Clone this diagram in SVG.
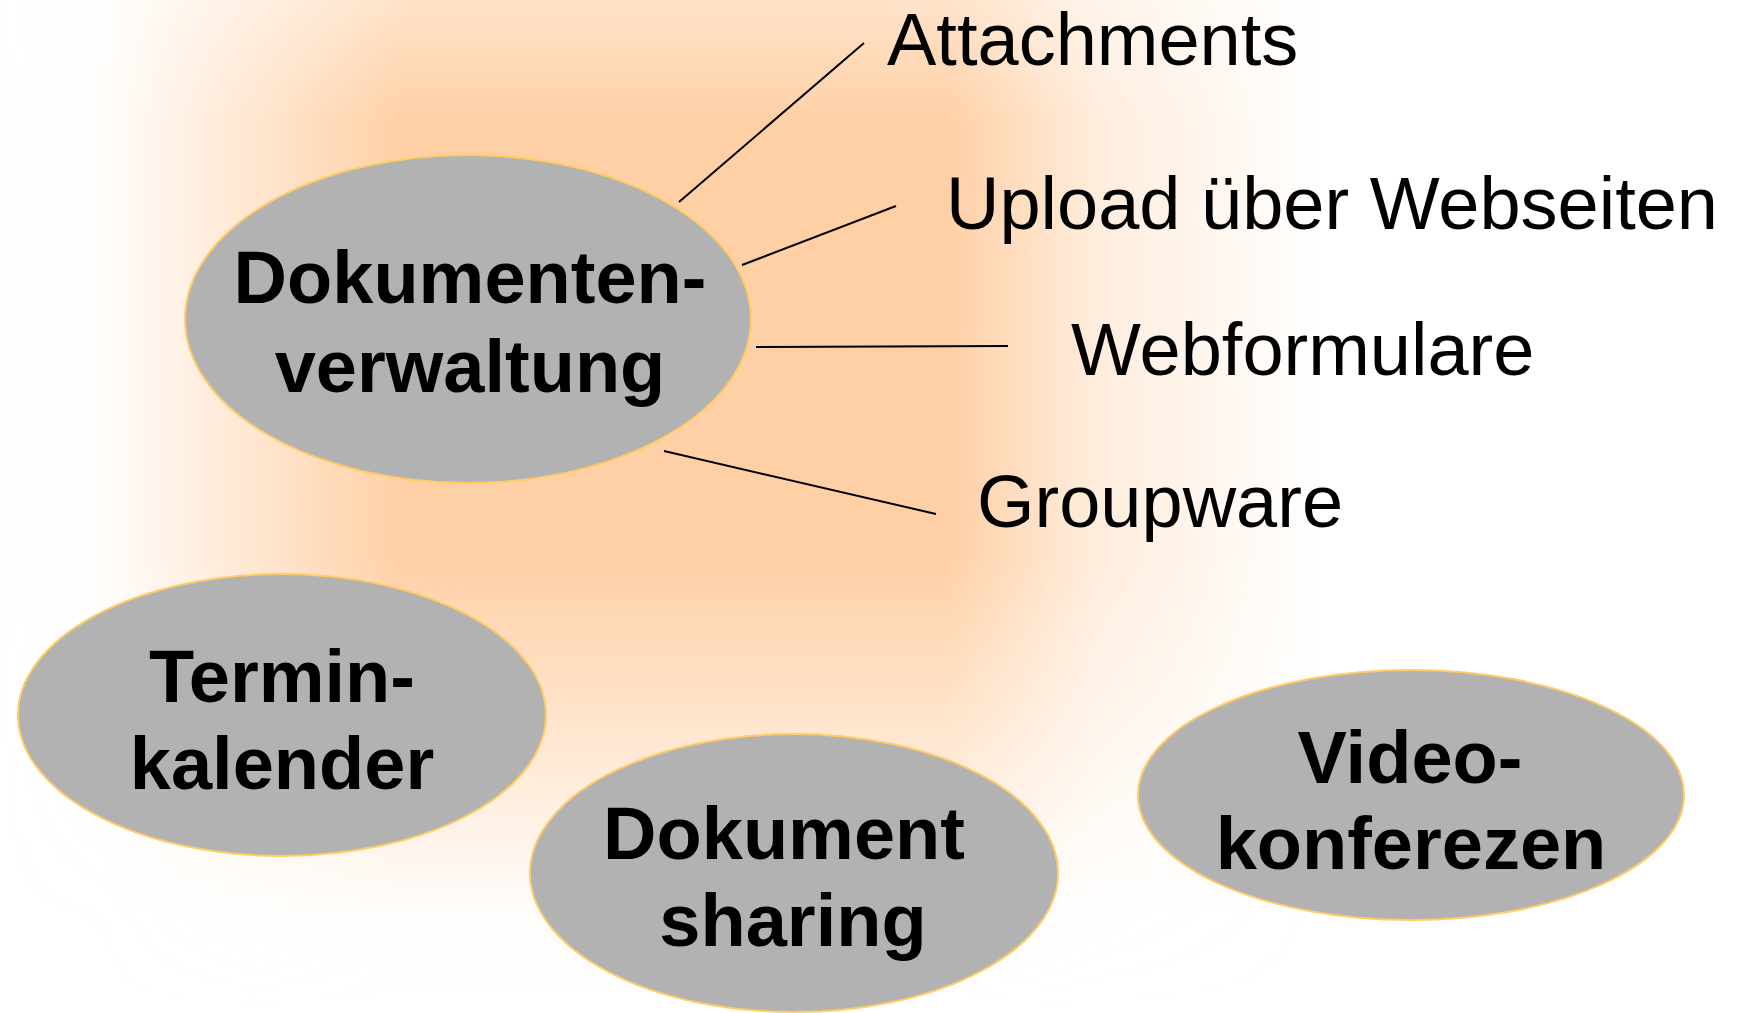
<svg xmlns="http://www.w3.org/2000/svg" width="1742" height="1013" viewBox="0 0 1742 1013">
<style>
.node ellipse{fill:#B2B2B2;stroke:#FFCC66;stroke-width:2}
.nt{font-family:"Liberation Sans",Arial,sans-serif;font-weight:bold;font-size:74px;fill:#000;text-anchor:middle}
.lbl{font-family:"Liberation Sans",Arial,sans-serif;font-size:74px;fill:#000}
.conn line{stroke:#000;stroke-width:2}
</style>
<defs>
<linearGradient id="hg" x1="0" y1="0" x2="1742" y2="0" gradientUnits="userSpaceOnUse">
<stop offset="0" stop-color="#FFD0A6" stop-opacity="0"/>
<stop offset="0.06" stop-color="#FFD0A6" stop-opacity="0.05"/>
<stop offset="0.23" stop-color="#FFD0A6" stop-opacity="1"/>
<stop offset="0.545" stop-color="#FFD0A6" stop-opacity="1"/>
<stop offset="0.63" stop-color="#FFD0A6" stop-opacity="0.38"/>
<stop offset="0.76" stop-color="#FFD0A6" stop-opacity="0"/>
<stop offset="1" stop-color="#FFD0A6" stop-opacity="0"/>
</linearGradient>
<linearGradient id="vg" x1="0" y1="0" x2="0" y2="1013" gradientUnits="userSpaceOnUse">
<stop offset="0" stop-color="#fff" stop-opacity="0.6"/>
<stop offset="0.12" stop-color="#fff" stop-opacity="1"/>
<stop offset="0.55" stop-color="#fff" stop-opacity="1"/>
<stop offset="0.9" stop-color="#fff" stop-opacity="0.05"/>
<stop offset="1" stop-color="#fff" stop-opacity="0"/>
</linearGradient>
<mask id="vm" maskUnits="userSpaceOnUse" x="0" y="0" width="1742" height="1013">
<rect x="0" y="0" width="1742" height="1013" fill="url(#vg)"/>
</mask>
</defs>
<rect x="0" y="0" width="1742" height="1013" fill="#FFFFFF"/>
<rect x="0" y="0" width="1742" height="1013" fill="url(#hg)" mask="url(#vm)"/>
<g id="connectors" class="conn">
<line x1="679" y1="202" x2="864" y2="43"/>
<line x1="742" y1="265" x2="896" y2="206"/>
<line x1="756" y1="347" x2="1008" y2="346"/>
<line x1="664" y1="451" x2="936" y2="514"/>
</g>
<g id="node-dokumentenverwaltung" class="node">
<ellipse cx="468" cy="319" rx="283" ry="164"/>
<text class="nt" x="470" y="303">Dokumenten-</text>
<text class="nt" x="470" y="392">verwaltung</text>
</g>
<g id="node-terminkalender" class="node">
<ellipse cx="282" cy="715" rx="264" ry="141"/>
<text class="nt" x="282" y="702">Termin-</text>
<text class="nt" x="282" y="789">kalender</text>
</g>
<g id="node-dokumentsharing" class="node">
<ellipse cx="794" cy="873" rx="264" ry="139"/>
<text class="nt" x="784" y="859">Dokument</text>
<text class="nt" x="793" y="946">sharing</text>
</g>
<g id="node-videokonferezen" class="node">
<ellipse cx="1411" cy="795" rx="273" ry="125"/>
<text class="nt" x="1410" y="783">Video-</text>
<text class="nt" x="1411" y="869">konferezen</text>
</g>
<g id="label-attachments"><text class="lbl" x="887" y="65">Attachments</text></g>
<g id="label-upload"><text class="lbl" x="946" y="229">Upload über Webseiten</text></g>
<g id="label-webformulare"><text class="lbl" x="1071" y="375">Webformulare</text></g>
<g id="label-groupware"><text class="lbl" x="977" y="527">Groupware</text></g>
</svg>
